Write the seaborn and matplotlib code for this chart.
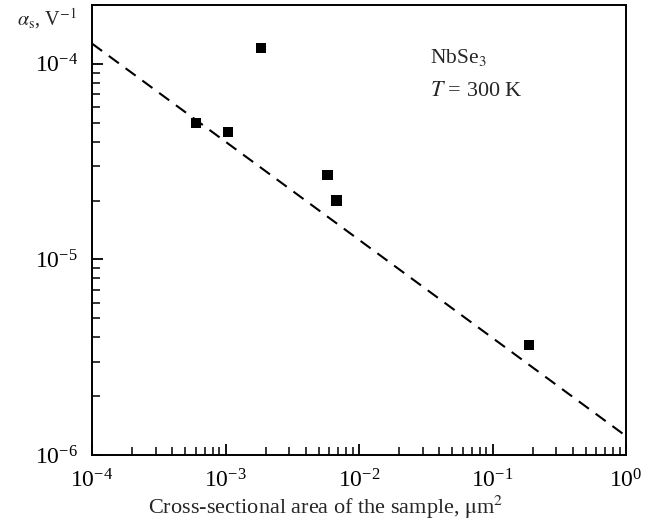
import matplotlib
matplotlib.use("Agg")
import matplotlib.pyplot as plt
import seaborn as sns
import pandas as pd
import numpy as np

# Data
area = [6.0e-4, 1.05e-3, 1.85e-3, 5.8e-3, 6.8e-3, 0.187]
alpha = [5.0e-5, 4.5e-5, 1.21e-4, 2.7e-5, 2.0e-5, 3.65e-6]
fit_x = [1e-4, 1.0]
fit_y = [1.27e-4, 1.25e-6]

sns.set_style("ticks")
plt.rcParams['font.family'] = ['Liberation Serif', 'DejaVu Serif']
plt.rcParams['mathtext.fontset'] = 'stix'

fig = plt.figure(figsize=(6.53, 5.24), dpi=100)
ax = fig.add_axes([92/653, 1-455/524, (626-92)/653, (455-5)/524])

pts = pd.DataFrame({"x": area, "y": alpha})
fit = pd.DataFrame({"x": fit_x, "y": fit_y})

sns.lineplot(data=fit, x="x", y="y", ax=ax, color="black", linewidth=1.5,
             linestyle=(0, (6, 4)))
sns.scatterplot(data=pts, x="x", y="y", ax=ax, marker="s", s=55, color="black",
                edgecolor="none", zorder=3)

ax.set_xscale("log")
ax.set_yscale("log")
ax.set_xlim(1e-4, 1.0)
ax.set_ylim(1e-6, 2e-4)
ax.set_xlabel("")
ax.set_ylabel("")

for s in ax.spines.values():
    s.set_linewidth(1.4)
    s.set_color("black")
    s.set_visible(True)

ax.tick_params(which="major", direction="in", length=8, width=1.3,
               labelsize=17, colors="black")
ax.tick_params(which="minor", direction="in", length=5.5, width=1.1, colors="black")
ax.tick_params(axis="x", which="major", pad=10)
ax.tick_params(axis="y", which="major", pad=10)
ax.tick_params(top=False, right=False, which="both")

fig.text(430/653, 1 - 57/524, "NbSe$_3$", fontsize=15.5,
         va="center", ha="left")
fig.text(430/653, 1 - 92/524, "$T$ = 300 K", fontsize=16,
         va="center", ha="left")

fig.text(17/653, 1 - 19/524, r"$\alpha_{\rm s}$, V$^{-1}$", fontsize=14.5,
         va="center", ha="left")
fig.text(326/653, 1 - 507/524, r"Cross-sectional area of the sample, $\mathrm{\mu}$m$^2$",
         fontsize=16, va="center", ha="center")

fig.savefig("out.png", dpi=100)
